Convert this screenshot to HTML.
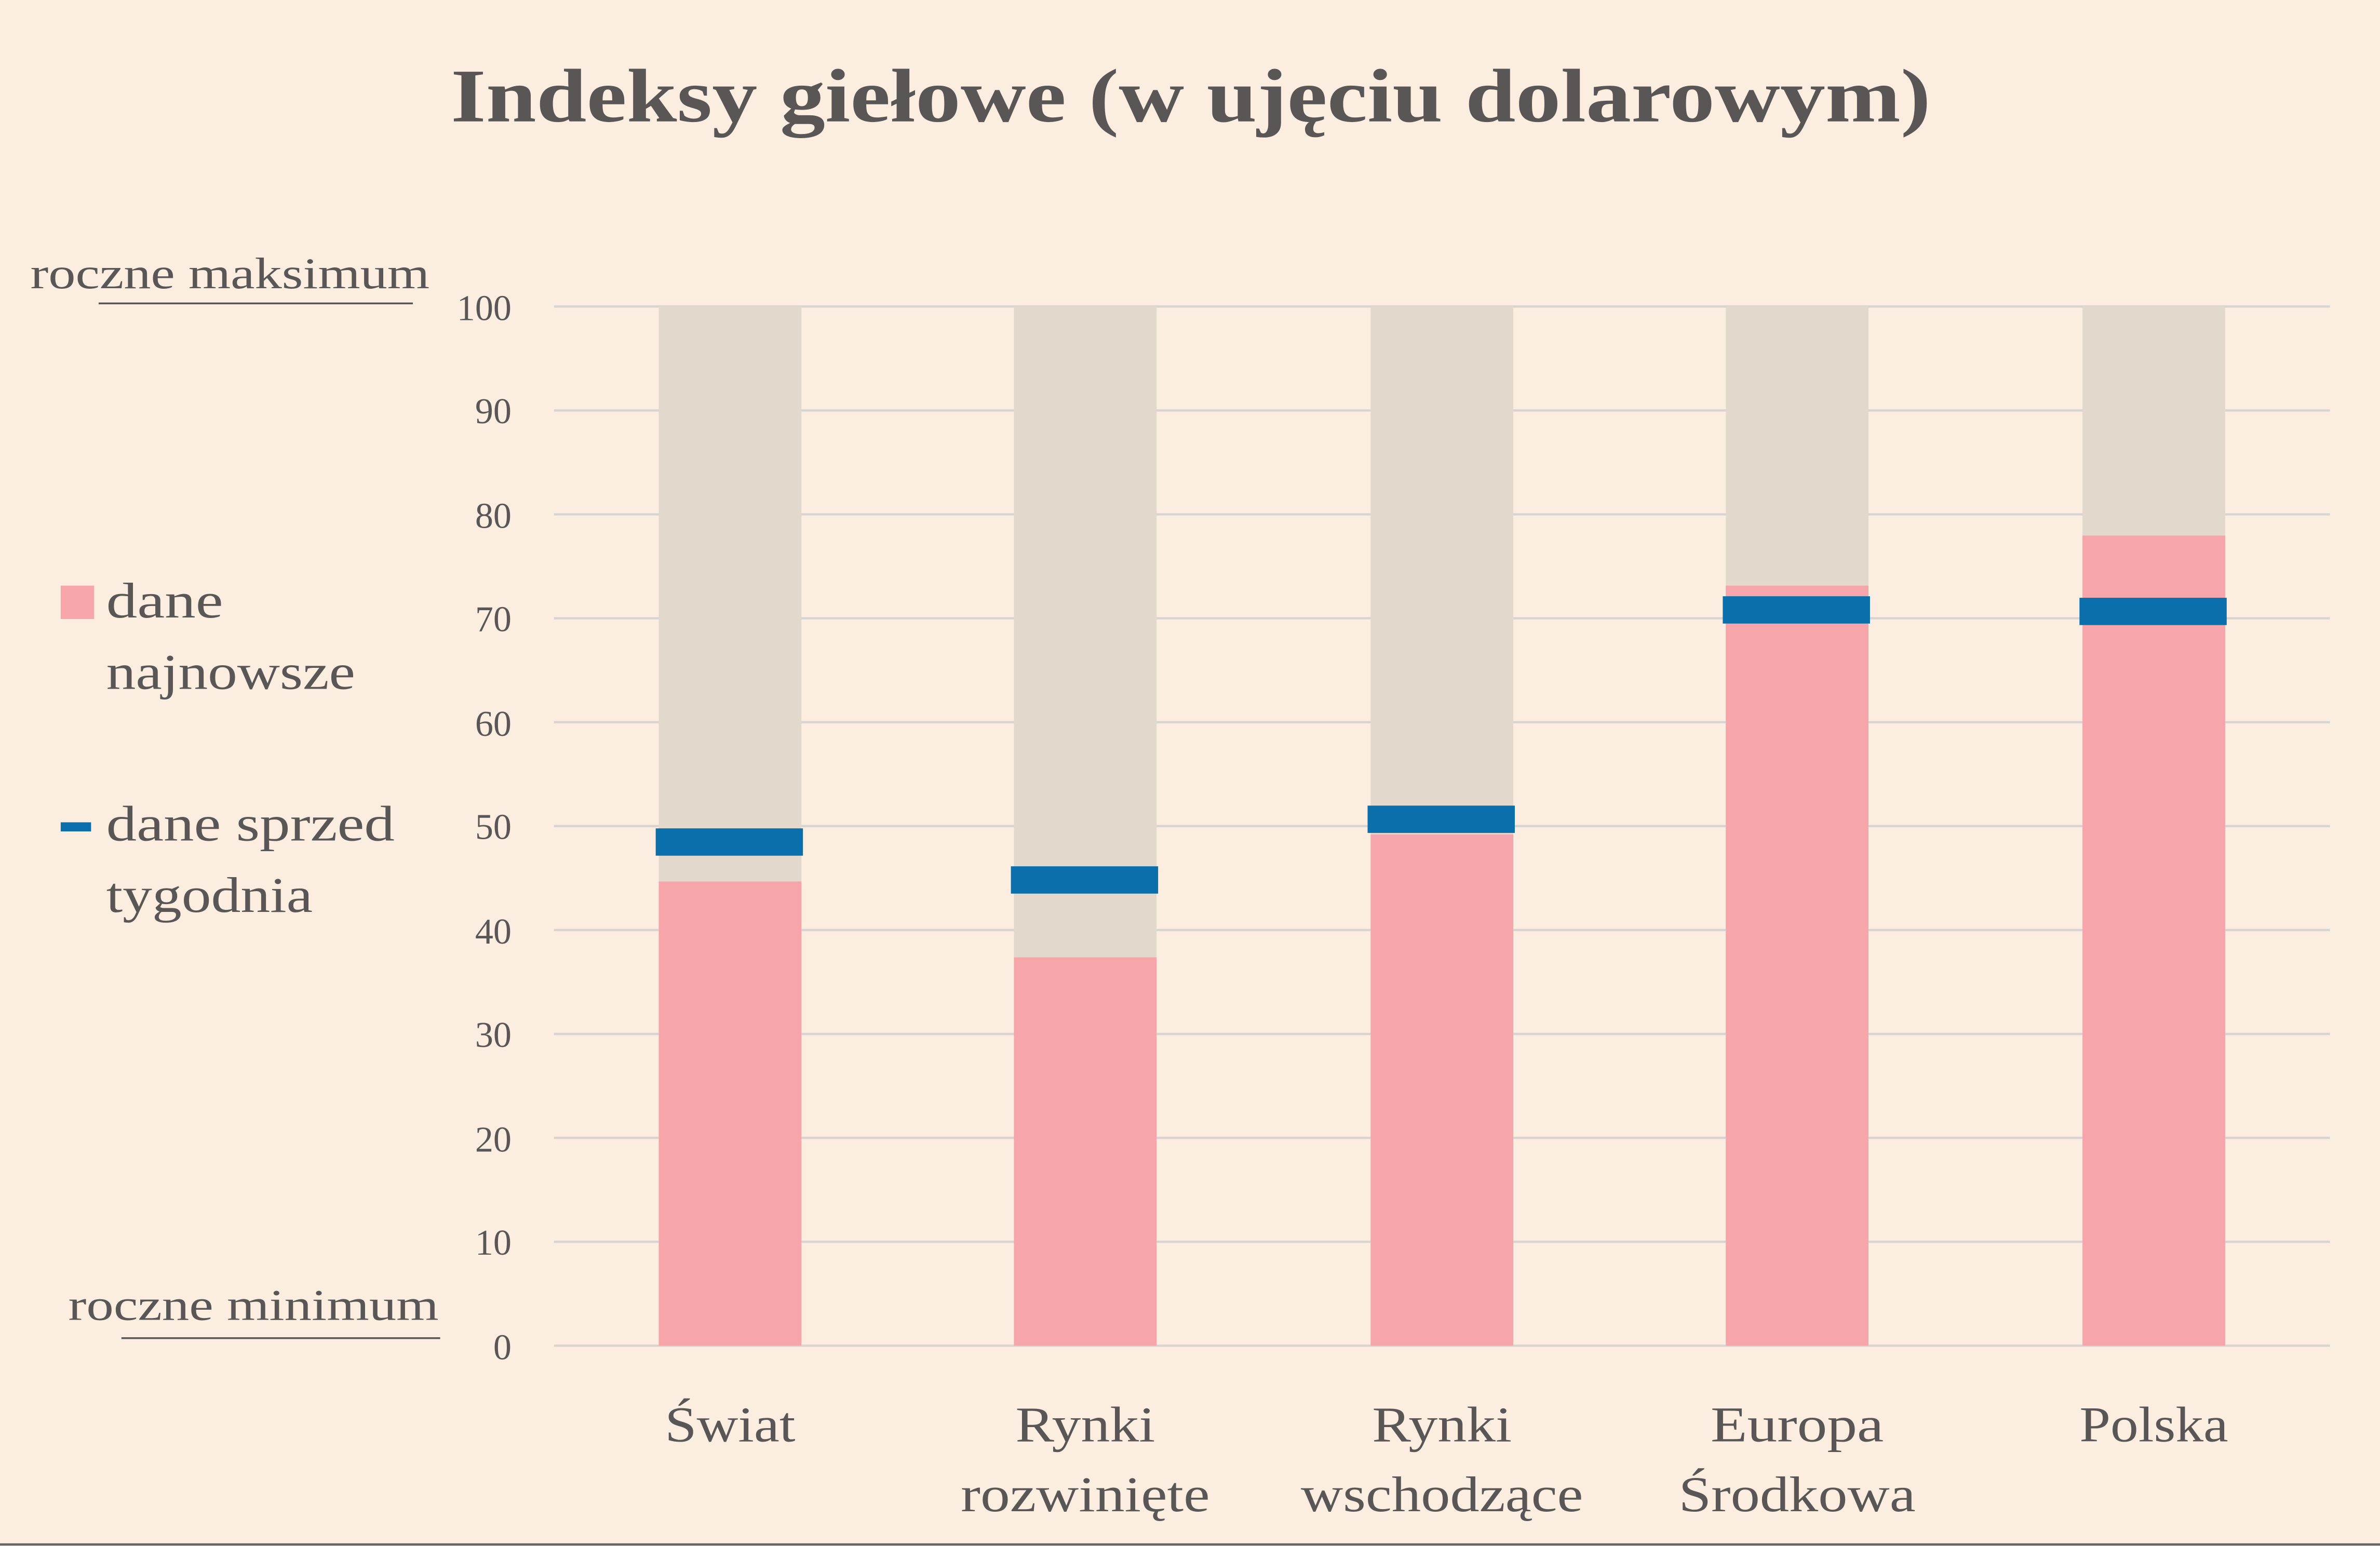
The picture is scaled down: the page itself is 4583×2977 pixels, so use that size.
<!DOCTYPE html>
<html><head><meta charset="utf-8"><style>
html,body{margin:0;padding:0;background:#fbede0;}
svg{display:block}
text{font-family:"Liberation Serif",serif;fill:#5a5656}
</style></head><body>
<svg width="4583" height="2977" viewBox="0 0 1568 1019" preserveAspectRatio="none">
<rect x="0" y="0" width="1568" height="1019" fill="#fbede0"/>
<text x="297" y="80" font-size="50" font-weight="bold" fill="#555" textLength="975" lengthAdjust="spacingAndGlyphs">Indeksy giełowe (w ujęciu dolarowym)</text>
<g stroke="#d9d4cf" stroke-width="1.5">
<line x1="365" x2="1535" y1="202" y2="202"/><line x1="365" x2="1535" y1="270.5" y2="270.5"/>
<line x1="365" x2="1535" y1="339" y2="339"/><line x1="365" x2="1535" y1="407.5" y2="407.5"/>
<line x1="365" x2="1535" y1="476" y2="476"/><line x1="365" x2="1535" y1="544.5" y2="544.5"/>
<line x1="365" x2="1535" y1="613" y2="613"/><line x1="365" x2="1535" y1="681.5" y2="681.5"/>
<line x1="365" x2="1535" y1="750" y2="750"/><line x1="365" x2="1535" y1="818.5" y2="818.5"/>
<line x1="365" x2="1535" y1="887" y2="887"/>
</g>
<g font-size="24" text-anchor="end">
<text x="337" y="211">100</text><text x="337" y="279">90</text><text x="337" y="348">80</text>
<text x="337" y="416">70</text><text x="337" y="485">60</text><text x="337" y="553">50</text>
<text x="337" y="622">40</text><text x="337" y="690">30</text><text x="337" y="759">20</text>
<text x="337" y="827">10</text><text x="337" y="896">0</text>
</g>
<g fill="#e3d8cc">
<rect x="434" y="202" width="94" height="685"/><rect x="668" y="202" width="94" height="685"/>
<rect x="903" y="202" width="94" height="685"/><rect x="1137" y="202" width="94" height="685"/>
<rect x="1372" y="202" width="94" height="685"/>
</g>
<g fill="#f6a5aa">
<rect x="434" y="581" width="94" height="306"/><rect x="668" y="631" width="94" height="256"/>
<rect x="903" y="550" width="94" height="337"/><rect x="1137" y="386" width="94" height="501"/>
<rect x="1372" y="353" width="94" height="534"/>
</g>
<g fill="#0a6fab">
<rect x="432" y="546" width="97" height="18"/><rect x="666" y="571" width="97" height="18"/>
<rect x="901" y="531" width="97" height="18"/><rect x="1135" y="393" width="97" height="18"/>
<rect x="1370" y="394" width="97" height="18"/>
</g>
<g font-size="33" text-anchor="middle">
<text x="481" y="950" textLength="86" lengthAdjust="spacingAndGlyphs">Świat</text>
<text x="715" y="950" textLength="92" lengthAdjust="spacingAndGlyphs">Rynki</text><text x="715" y="996" textLength="164" lengthAdjust="spacingAndGlyphs">rozwinięte</text>
<text x="950" y="950" textLength="92" lengthAdjust="spacingAndGlyphs">Rynki</text><text x="950" y="996" textLength="186" lengthAdjust="spacingAndGlyphs">wschodzące</text>
<text x="1184" y="950" textLength="114" lengthAdjust="spacingAndGlyphs">Europa</text><text x="1184" y="996" textLength="156" lengthAdjust="spacingAndGlyphs">Środkowa</text>
<text x="1419" y="950" textLength="98" lengthAdjust="spacingAndGlyphs">Polska</text>
</g>
<text x="20" y="190" font-size="29" textLength="263" lengthAdjust="spacingAndGlyphs">roczne maksimum</text>
<line x1="65" x2="272" y1="200" y2="200" stroke="#5a5656" stroke-width="1.2"/>
<text x="45" y="870" font-size="29" textLength="244" lengthAdjust="spacingAndGlyphs">roczne minimum</text>
<line x1="80" x2="290" y1="882" y2="882" stroke="#5a5656" stroke-width="1.2"/>
<rect x="40" y="386" width="22" height="22" fill="#f6a5aa"/>
<text x="70" y="407" font-size="33" textLength="77" lengthAdjust="spacingAndGlyphs">dane</text>
<text x="70" y="454" font-size="33" textLength="164" lengthAdjust="spacingAndGlyphs">najnowsze</text>
<rect x="40" y="542" width="20" height="6" fill="#0a6fab"/>
<text x="70" y="554" font-size="33" textLength="190" lengthAdjust="spacingAndGlyphs">dane sprzed</text>
<text x="70" y="601" font-size="33" textLength="136" lengthAdjust="spacingAndGlyphs">tygodnia</text>
<line x1="0" x2="1568" y1="1018" y2="1018" stroke="#666" stroke-width="1.5"/>
</svg>
</body></html>
